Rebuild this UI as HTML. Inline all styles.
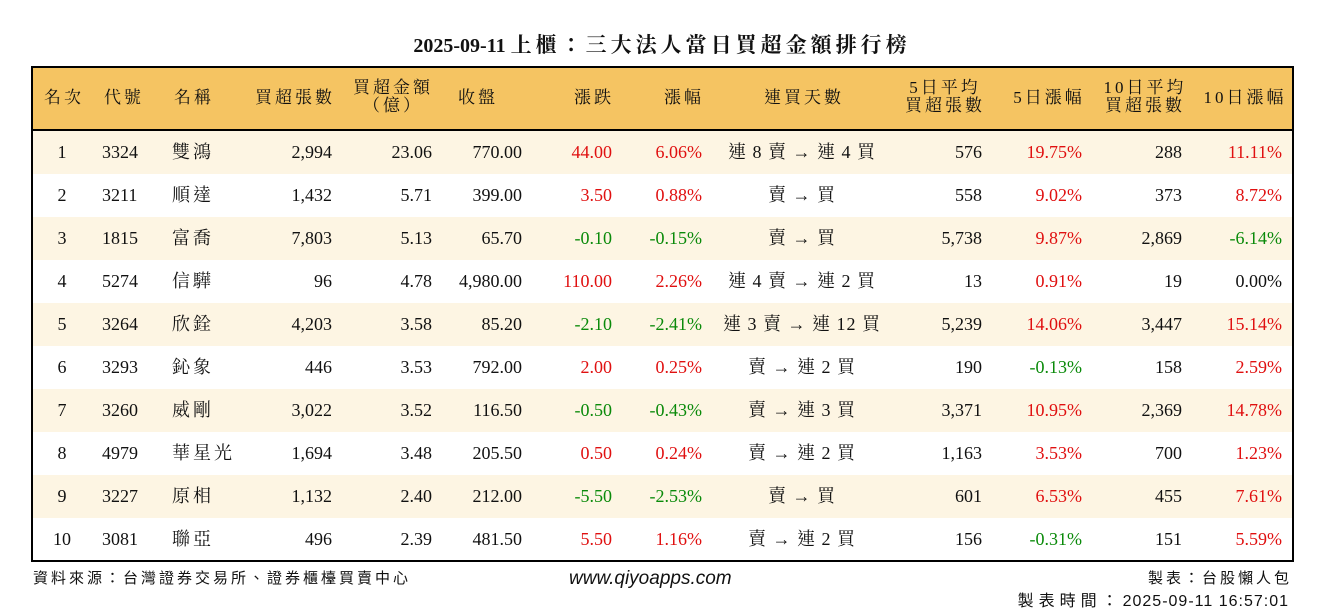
<!DOCTYPE html>
<html><head><meta charset="utf-8"><style>
body{margin:0;width:1324px;height:612px;background:#fff;position:relative;overflow:hidden;font-family:"Liberation Serif","Noto Serif CJK TC","Noto Serif CJK SC",serif;color:#111}
.t{position:absolute;left:0;width:1324px;top:29px;text-align:center;font-size:20px;font-weight:bold}
.t span{letter-spacing:4px;font-size:21px}
.box{position:absolute;left:31px;top:66px;width:1259px;height:492px;border:2px solid #000}
.hd{position:absolute;left:0;top:0;width:1259px;height:61px;background:#f5c462;border-bottom:2px solid #000}
.r{position:absolute;left:0;width:1259px;height:43px}
.c{position:absolute;font-size:18px;line-height:43px;white-space:nowrap}
.c.k{letter-spacing:3px}
.c.a{letter-spacing:1px}
.h{position:absolute;font-size:17px;line-height:18px;white-space:nowrap;text-align:center;letter-spacing:3px}
.red{color:#e01010}.grn{color:#0a8a0a}
.f{position:absolute;font-family:"Liberation Sans","Noto Sans CJK TC",sans-serif;font-size:15px;white-space:nowrap}
.f .k{letter-spacing:3px}
</style></head><body>
<div class="t">2025-09-11 <span>上櫃：三大法人當日買超金額排行榜</span></div>
<div class="box" id="b"><div class="hd" id="hd"></div></div>
<div class="f" style="left:33px;top:567px"><span class="k">資料來源：台灣證券交易所、證券櫃檯買賣中心</span></div>
<div class="f" style="left:569px;top:568px;font-size:19px;font-style:italic">www.qiyoapps.com</div>
<div class="f" style="right:32px;top:567px"><span class="k">製表：台股懶人包</span></div>
<div class="f" style="right:35px;top:587px;font-size:16px;letter-spacing:1px"><span style="letter-spacing:5px">製表時間：</span>2025-09-11 16:57:01</div>
<script>
var hd=document.getElementById('hd'),b=document.getElementById('b');
var H=[[31,'名次'],[91,'代號'],[161,'名稱'],[262,'買超張數'],[360,'買超金額<br>（億）'],[445,'收盤'],[561,'漲跌'],[651,'漲幅'],[771,'連買天數'],[912,'5日平均<br>買超張數'],[1016,'5日漲幅'],[1112,'10日平均<br>買超張數'],[1212,'10日漲幅']];
H.forEach(function(h){var d=document.createElement('div');d.className='h';d.innerHTML=h[1];d.style.left=(h[0]-80)+'px';d.style.width='160px';d.style.top=(h[1].indexOf('<br>')>0?'11px':'21px');hd.appendChild(d)});
var D=[
[1,3324,'雙鴻','2,994','23.06','770.00','44.00','6.06%','連 8 賣 → 連 4 買','576','19.75%','288','11.11%'],
[2,3211,'順達','1,432','5.71','399.00','3.50','0.88%','賣 → 買','558','9.02%','373','8.72%'],
[3,1815,'富喬','7,803','5.13','65.70','-0.10','-0.15%','賣 → 買','5,738','9.87%','2,869','-6.14%'],
[4,5274,'信驊','96','4.78','4,980.00','110.00','2.26%','連 4 賣 → 連 2 買','13','0.91%','19','0.00%'],
[5,3264,'欣銓','4,203','3.58','85.20','-2.10','-2.41%','連 3 賣 → 連 12 買','5,239','14.06%','3,447','15.14%'],
[6,3293,'鈊象','446','3.53','792.00','2.00','0.25%','賣 → 連 2 買','190','-0.13%','158','2.59%'],
[7,3260,'威剛','3,022','3.52','116.50','-0.50','-0.43%','賣 → 連 3 買','3,371','10.95%','2,369','14.78%'],
[8,4979,'華星光','1,694','3.48','205.50','0.50','0.24%','賣 → 連 2 買','1,163','3.53%','700','1.23%'],
[9,3227,'原相','1,132','2.40','212.00','-5.50','-2.53%','賣 → 買','601','6.53%','455','7.61%'],
[10,3081,'聯亞','496','2.39','481.50','5.50','1.16%','賣 → 連 2 買','156','-0.31%','151','5.59%']];
function col(v){if(v==='0.00%')return '';return v.charAt(0)==='-'?'grn':'red'}
D.forEach(function(r,i){var row=document.createElement('div');row.className='r';row.style.top=(63+i*43)+'px';if(i%2==0)row.style.background='#fdf5e3';b.appendChild(row);
function add(t,type,x,cls){var d=document.createElement('div');d.className='c '+(cls||'');d.textContent=t;
if(type=='c'){d.style.left=(x-100)+'px';d.style.width='200px';d.style.textAlign='center'}
else if(type=='l'){d.style.left=x+'px'}else{d.style.right=(1259-x)+'px'}row.appendChild(d)}
add(r[0],'c',29);add(r[1],'l',69);add(r[2],'l',139,'k');add(r[3],'r',299);add(r[4],'r',399);add(r[5],'r',489);
add(r[6],'r',579,col(r[6]));add(r[7],'r',669,col(r[7]));add(r[8],'c',769,'a');add(r[9],'r',949);add(r[10],'r',1049,col(r[10]));add(r[11],'r',1149);add(r[12],'r',1249,col(r[12]));});
</script>
</body></html>
